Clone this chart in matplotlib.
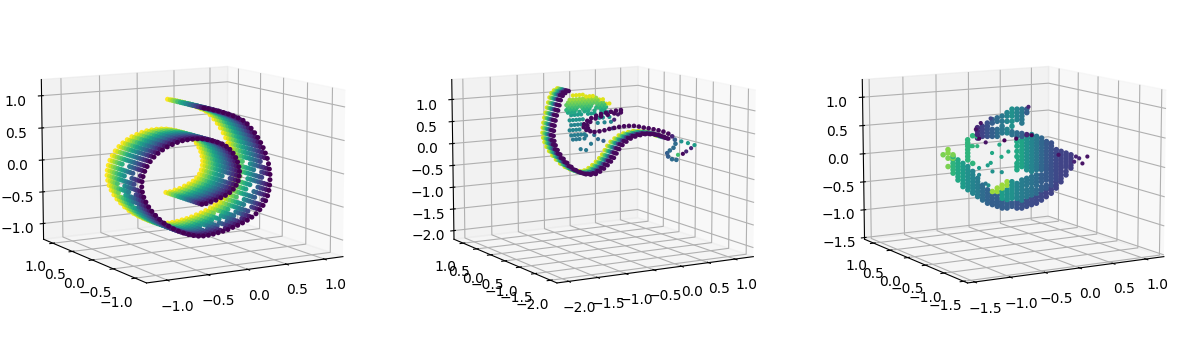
import matplotlib
matplotlib.use('Agg')
import numpy as np
import matplotlib.pyplot as plt
from mpl_toolkits.mplot3d import Axes3D

# --- panel 1: rolled sheet, spine + width levels
roll_x = [-.06,0,.064,.128,.192,.256,.32,.385,.449,.504,.556,.603,.645,.684,.718,.748,.774,.791,.803,.812,.812,.808,.799,.782,.756,.722,.679,.628,.573,.513,.449,.385,.32,.256,.192,.128,.064,0,-.064,-.128,-.192,-.256,-.321,-.385,-.449,-.509,-.568,-.624,-.675,-.722,-.761,-.795,-.821,-.838,-.846,-.842,-.829,-.808,-.778,-.739,-.692,-.641,-.585,-.526,-.462,-.397,-.333,-.269,-.205,-.141,-.077,-.013,.051,.115,.175,.231,.278,.321,.355,.38,.397,.406,.402,.389,.363,.325,.278,.222,.162,.098,.034,-.03,-.085]
roll_z = [.97,.954,.93,.908,.88,.851,.818,.78,.736,.678,.605,.533,.456,.374,.293,.207,.122,.038,-.045,-.128,-.21,-.292,-.373,-.453,-.527,-.595,-.655,-.711,-.756,-.795,-.828,-.856,-.879,-.903,-.92,-.933,-.946,-.954,-.956,-.949,-.931,-.907,-.874,-.836,-.792,-.744,-.691,-.628,-.56,-.492,-.422,-.346,-.27,-.191,-.113,-.037,.037,.112,.18,.248,.309,.359,.403,.442,.47,.494,.512,.519,.522,.52,.512,.494,.471,.442,.41,.367,.316,.253,.183,.113,.039,-.034,-.104,-.175,-.239,-.295,-.341,-.376,-.404,-.433,-.45,-.468,-.472]
roll_y = [-.41,-.35,-.29,-.235,-.175,-.115,-.06,0,.06,.115,.175,.235,.29,.35,.41]
# white specks in the sheet: spine position, first of two width levels
gap_spine = [17,19,18,20,22,21,24,23,26,25,27,29,28,31,30,33,32,52,54,53,55,56,57,83,49,51,35]
gap_level = [1,4,8,1,5,9,2,6,4,8,1,3,7,5,9,2,6,4,1,8,5,2,7,4,6,9,5]

# --- panel 2: main loop spine + width levels
loop_x = [-.943,-.989,-1.025,-1.052,-1.07,-1.089,-1.107,-1.125,-1.139,-1.148,-1.152,-1.143,-1.125,-1.098,-1.061,-1.016,-.966,-.907,-.843,-.775,-.707,-.639,-.57,-.511,-.457,-.407,-.361,-.32,-.284,-.248,-.202,-.148,-.089,-.025,.043,.111,.18,.248,.316,.375,.43]
loop_y = [-.125,-.098,-.077,-.061,-.051,-.04,-.029,-.019,-.011,-.006,-.003,-.009,-.019,-.035,-.056,-.082,-.111,-.145,-.183,-.222,-.261,-.301,-.341,-.375,-.406,-.435,-.462,-.486,-.507,-.528,-.554,-.586,-.62,-.657,-.696,-.736,-.776,-.815,-.855,-.889,-.921]
loop_z = [1.34,1.295,1.235,1.138,1.026,.913,.801,.689,.576,.464,.352,.239,.142,.037,-.06,-.158,-.248,-.338,-.412,-.465,-.502,-.51,-.495,-.442,-.375,-.3,-.218,-.135,-.038,.059,.149,.224,.292,.337,.367,.389,.389,.382,.359,.329,.292]
loop_w = [.19,.14,.09,.04,0,-.05,-.1,-.15,-.19]
loop_c = [.95,.85,.72,.6,.45,.2,.03,.02,.02]

# inner dark arc and the hook on the right
arc_x = [-.143,-.211,-.28,-.348,-.416,-.484,-.552,-.607,-.652,-.657,-.62,-.566,-.507,-.439,-.37,-.302,-.234,-.166,-.098,-.03,.039,.107,.175,.243,.311,.38,.448,.516,.57,.607,.616,.589,.539,.502,.516,.57,.63,-.143,-.234,-.325,-.416,-.493,-.566,-.607,-.598]
arc_y = [-.589,-.549,-.509,-.47,-.43,-.391,-.351,-.319,-.293,-.29,-.312,-.343,-.377,-.417,-.457,-.496,-.536,-.575,-.615,-.654,-.694,-.734,-.773,-.812,-.852,-.892,-.931,-.971,-1.002,-1.024,-1.029,-1.013,-.984,-.963,-.971,-1.002,-1.037,-.589,-.536,-.483,-.43,-.386,-.343,-.319,-.325]
arc_z = [.891,.876,.853,.831,.801,.764,.711,.651,.576,.509,.449,.419,.404,.419,.441,.471,.494,.516,.531,.539,.539,.524,.501,.486,.464,.441,.412,.367,.307,.232,.142,.052,-.008,-.068,-.143,-.203,-.218,.838,.816,.786,.749,.704,.629,.554,.486]
arc_c = [.02]*28 + [.1,.3,.35,.35,.35,.3,.3,.35,.35] + [.02]*8

tip_x = [.698,.789,.88,.834,.766,.72,.652]
tip_y = [-1.076,-1.129,-1.182,-1.155,-1.116,-1.089,-1.05]
tip_z = [.194,.157,.112,.044,-.03,-.083,-.105]
tip_c = [.5,.55,.55,.1,.1,.02,.7]

# sheet inside the loop, row by row
blob_z = [1.26,1.215,1.17,1.125,1.11,1.06,1.02,1.0,.95,.89,.83,.72,.61,.50,.385,.29]
blob_c = [.95,.95,.85,.95,.8,.75,.95,.7,.65,.6,.55,.5,.45,.45,.42,.4]
blob_x = [[-.93,-.87,-.81,-.75],
          [-.69,-.625,-.565],
          [-.99,-.93,-.87,-.81,-.75,-.69,-.625,-.565,-.505],
          [-.445,-.38],
          [-1.02,-.96,-.9,-.84,-.78,-.72,-.655,-.595,-.535,-.475],
          [-1.05,-.99,-.93,-.87,-.81,-.75,-.69,-.625,-.565,-.505,-.445,-.38],
          [-.32,-.26],
          [-1.02,-.96,-.9,-.84,-.78,-.72,-.655,-.595,-.475,-.41,-.35],
          [-1.05,-.99,-.93,-.87,-.75,-.69,-.625,-.505,-.445,-.38,-.32],
          [-1.02,-.96,-.9,-.81,-.72,-.655,-.535,-.41,-.35],
          [-.96,-.9,-.84,-.78,-.655,-.595,-.535,-.415,-.35,-.29],
          [-.99,-.93,-.87,-.81,-.75,-.445,-.38,-.26],
          [-.96,-.9,-.84,-.78,-.475,-.35,-.23],
          [-.99,-.93,-.87,-.81],
          [-.96,-.9,-.84,-.78,-.72],
          [-.93,-.87,-.81,-.72]]
stray_x = [-.79,-.69,-.6,-.47,-.37,-.2,-.17,-.1,-.69,-.54]
stray_z = [.062,.03,.16,.25,.2,.46,.65,.76,.35,.35]
stray_c = [.4,.4,.4,.35,.3,.25,.1,.05,.4,.35]

# --- panel 3: columns of points
col_x = [-.925,-.87,-.87,-.814,-.814,-.759,-.703,-.648,-.648,-.592,-.592,-.537,-.537,-.482,-.426,-.371,-.371,-.315,-.315,
         -.26,-.26,-.26,-.204,-.204,-.204,-.149,-.149,-.093,-.093,-.038,-.038,.017,.017,.073,.073,.128,.128,.184,.184,
         .239,.239,.295,.295,.35,.35,.405,.405,.461,.516,
         -.537,-.482,-.426,-.371,-.371,-.315,-.315,-.26,-.26,-.204,-.204,-.149,-.149,-.093,-.093,-.038,-.038,.017,.017,
         -.093,-.038,.017,.073,.128,.184,.239,.295,.35,.405,.461,.516]
col_y = [.284,.252,.252,.219,.219,.187,.155,.123,.123,.091,.091,.059,.059,.027,-.006,-.038,-.038,-.07,-.07,
         -.102,-.102,-.102,-.134,-.134,-.134,-.166,-.166,-.199,-.199,-.231,-.231,-.263,-.263,-.295,-.295,-.327,-.327,-.36,-.36,
         -.391,-.391,-.424,-.424,-.456,-.456,-.488,-.488,-.52,-.552,
         .059,.027,-.006,-.038,-.038,-.07,-.07,-.102,-.102,-.134,-.134,-.166,-.166,-.199,-.199,-.231,-.231,-.263,-.263,
         -.199,-.231,-.263,-.295,-.327,-.36,-.391,-.424,-.456,-.488,-.52,-.552]
col_c = [.8,.82,.8,.8,.65,.6,.55,.5,.65,.45,.65,.42,.65,.35,.32,.3,.85,.85,.3,
         .85,.55,.3,.85,.5,.3,.5,.28,.45,.26,.42,.25,.4,.24,.38,.23,.35,.22,.3,.22,
         .28,.2,.25,.2,.22,.2,.2,.2,.2,.18,
         .12,.2,.25,.3,.3,.35,.35,.4,.4,.45,.45,.5,.38,.45,.35,.4,.3,.3,.1,
         .6,.58,.5,.45,.4,.33,.28,.25,.22,.2,.2,.18]
col_z = [[.10],
         [.19,.13],[.04,-.105],
         [.10,.04],[.07,.01,-.05,-.105,-.16,-.22],
         [.01,-.05,-.105,-.16,-.22,-.28,-.34],
         [-.05,-.105,-.16,-.22,-.28,-.34,-.40,-.455],
         [-.105,-.16,-.22,-.28,-.34,-.40,-.455,-.51],[.36,.305,.25,.19,.13,.07,.01],
         [-.19,-.25,-.31,-.37,-.43,-.48,-.54,-.57],[.43,-.05],
         [-.31,-.37,-.43,-.48,-.54,-.60,-.63],[.42],
         [-.43,-.48,-.54,-.60,-.66,-.69],
         [-.51,-.57,-.63,-.69,-.745],
         [-.60,-.66,-.72,-.77],[-.54],
         [-.48,-.54],[-.60,-.66,-.72,-.77,-.80],
         [-.43,-.48],[-.54,-.60,-.66],[-.69,-.745,-.80,-.83],
         [-.37,-.43],[-.51,-.57,-.63,-.68],[-.72,-.77,-.83],
         [-.37,-.43,-.48,-.54,-.60,-.66],[-.745,-.80],
         [-.40,-.455,-.51,-.57,-.63,-.66],[-.72,-.77,-.83],
         [-.34,-.40,-.455,-.51,-.57,-.63,-.69],[-.72,-.77,-.83],
         [-.31,-.37,-.43,-.51,-.57,-.63],[-.69,-.745,-.80],
         [-.28,-.34,-.40,-.48,-.54,-.60],[-.66,-.72,-.77],
         [-.25,-.31,-.37,-.43,-.51,-.57],[-.63,-.69,-.745],
         [-.25,-.31,-.37,-.455,-.51],[-.57,-.63,-.69],
         [-.22,-.28,-.34,-.43,-.48],[-.51,-.57,-.63],
         [-.19,-.25,-.31,-.37,-.43],[-.455,-.51,-.57],
         [-.16,-.22,-.28,-.33],[-.37,-.43,-.48],
         [-.13,-.19,-.25],[-.31,-.37],
         [-.105,-.19,-.25],
         [-.08,-.13],
         # upper band and flap
         [.57,.51,.45,.39],
         [.595,.54,.48,.42],
         [.65,.595,.54,.48,.42],
         [.71,.65],[.54,.48,.42],
         [.74,.68],[.54,.48,.42],
         [.77,.68],[.595,.54,.48],
         [.83,.77,.68],[.54,.48],
         [.89,.83,.77,.68,.595],[.50,.45],
         [.89,.83,.77,.71],[.48,.42],
         [.89,.83,.77,.71,.65],[.47,.42],
         [.89,.83],[.45],
         # right blob
         [.33,.25,.16,.07,-.05,-.105,-.16],
         [.36,.305,.25,.19,.13,.07,.01,-.05,-.105],
         [.42,.36,.305,.25,.19,.13,.07,.01,-.05,-.105,-.16],
         [.45,.39,.33,.28,.22,.16,.10,.04,-.02,-.08,-.13,-.19],
         [.42,.36,.305,.25,.19,.13,.07,.01,-.05,-.105,-.16],
         [.39,.33,.28,.22,.16,.10,.04,-.02,-.08,-.13,-.16],
         [.33,.28,.22,.16,.10,.04,-.02,-.08,-.13,-.16],
         [.305,.25,.19,.13,.07,.01,-.05,-.105,-.16],
         [.19,.13,.07,.01,-.05,-.105],
         [.16,.10,.04,-.02,-.08],
         [.13,.07,.01,-.05],
         [.10,.04,-.02]]
dot_x = [.572,.553,.609,.646,.701,.036,.073,-.101,-.234,-.445,-.518,-.5,-.555,-.389,.376,
         -.54,-.59,-.30,-.37,-.28,-.39,-.52,-.43,-.37,-.27,-.52,-.45,-.42,-.61,-.20,-.08]
dot_y = [-.585,-.574,-.606,-.627,-.659,-.274,-.295,-.194,-.117,.005,.048,.037,.069,-.027,-.471,
         .06,.09,-.10,-.03,-.12,-.03,.05,-.02,-.04,-.11,.05,.00,-.02,.10,-.16,-.20]
dot_z = [.07,-.02,.04,-.05,.07,.93,.44,.38,.35,.315,.38,.65,.54,.73,.10,
         .25,.25,.28,.13,.07,-.04,-.13,-.08,-.19,-.20,-.25,-.40,-.43,.25,.16,.01]
dot_c = [.1,.1,.1,.05,.05,.1,0,0,0,.05,.02,.05,.05,.2,.05,
         .65,.65,.6,.6,.6,.58,.55,.55,.5,.5,.45,.4,.5,.65,.6,.6]

lims_x = [(-1.25, 1.25), (-2.2, 1.35), (-1.6, 1.28)]
lims_z = [(-1.25, 1.25), (-2.2, 1.45), (-1.53, 1.31)]
ticks = [[-1, -.5, 0, .5, 1], [-2, -1.5, -1, -.5, 0, .5, 1], [-1.5, -1, -.5, 0, .5, 1]]
rects = [(-0.0076, 0.0, 0.33, 1.0), (0.3408, 0.0, 0.33, 1.0), (0.6893, 0.0, 0.33, 1.0)]

fig = plt.figure(figsize=(11.78, 3.43), dpi=100)
axes = []
for i in range(3):
    ax = fig.add_axes(rects[i], projection='3d')
    ax.view_init(10, -120)
    ax.computed_zorder = False
    ax.set_xlim(lims_x[i]); ax.set_ylim(lims_x[i]); ax.set_zlim(lims_z[i])
    ax.set_xticks(ticks[i]); ax.set_yticks(ticks[i]); ax.set_zticks(ticks[i])
    axes.append(ax)

def dots(ax, x, y, z, c, size):
    ax.scatter(x, y, z, c=c, cmap='viridis', vmin=0, vmax=1, s=size, linewidths=0, depthshade=False)

# panel 1
n = len(roll_x)
keep = np.ones(n * len(roll_y), dtype=bool)
for i, j in zip(gap_spine, gap_level):
    keep[[j * n + i, (j + 1) * n + i]] = False
xs = np.tile(roll_x, len(roll_y))[keep]
zs = np.tile(roll_z, len(roll_y))[keep]
ys = np.repeat(roll_y, n)[keep]
dots(axes[0], xs, ys, zs, (ys + .41) / .82, 13)

# panel 2
bx = np.concatenate(blob_x)
bz = np.concatenate([np.full(len(r), v) for r, v in zip(blob_x, blob_z)])
bc = np.concatenate([np.full(len(r), v) for r, v in zip(blob_x, blob_c)])
dots(axes[1], bx, np.full(len(bx), -.425), bz, bc, 9)
dots(axes[1], stray_x, np.full(len(stray_x), -.425), stray_z, stray_c, 9)
# far edge of the ribbon first so the dark edge stays on top
for w, c in zip(loop_w, loop_c):
    dots(axes[1], loop_x, np.array(loop_y) + w, loop_z, np.full(len(loop_x), c), 10)
dots(axes[1], tip_x, tip_y, tip_z, tip_c, 9)
dots(axes[1], arc_x, arc_y, arc_z, arc_c, 11)

# panel 3
cx = np.concatenate([np.full(len(r), v) for r, v in zip(col_z, col_x)])
cy = np.concatenate([np.full(len(r), v) for r, v in zip(col_z, col_y)])
cc = np.concatenate([np.full(len(r), v) for r, v in zip(col_z, col_c)])
dots(axes[2], cx, cy, np.concatenate(col_z), cc, 16)
dots(axes[2], dot_x, dot_y, dot_z, dot_c, 9)

fig.savefig('out.png', dpi=100)
